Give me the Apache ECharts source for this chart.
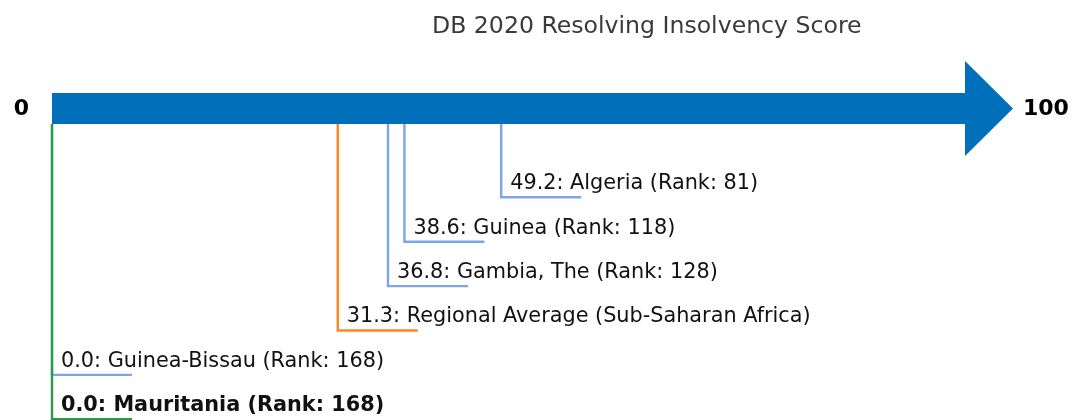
<!DOCTYPE html>
<html>
<head>
<meta charset="utf-8">
<script src="https://cdn.jsdelivr.net/npm/echarts@6/dist/echarts.min.js"></script>
<style>
html, body { margin: 0; padding: 0; background: #fff; }
#chart { width: 1072px; height: 420px; }
</style>
</head>
<body>
<div id="chart"></div>
<script>
// economies shown under the arrow, top to bottom
const names = ['Algeria', 'Guinea', 'Gambia, The', 'Regional Average (Sub-Saharan Africa)', 'Guinea-Bissau', 'Mauritania']
const scores = [49.2, 38.6, 36.8, 31.3, 0.0, 0.0]
const ranks = [81, 118, 128, null, 168, 168]
const kinds = ['peer', 'peer', 'peer', 'region', 'peer', 'focus']
// row of each label below the arrow (0 = arrow itself)
const levels = [2, 3, 4, 5, 6, 7]
const scaleEnds = [0, 100]

const kindColor = {
  peer: '#7ba7ea',
  region: '#ff8424',
  focus: '#2a9a46',
}

let myChart = echarts.init(document.getElementById('chart'))

function labelText(i) {
  let s = scores[i].toFixed(1) + ': ' + names[i]
  if (ranks[i] != null) s += ' (Rank: ' + ranks[i] + ')'
  return s
}

let option = {
  animation: false,
  title: {
    text: 'DB 2020 Resolving Insolvency Score',
    left: 427,
    top: 10,
    textStyle: {
      fontFamily: 'DejaVu Sans',
      fontSize: 23.6,
      fontWeight: 'normal',
      color: '#3a3a3a',
    },
  },
  grid: {
    left: 52,
    right: 107,
    top: 108.5,
    bottom: 0.7,
  },
  xAxis: {
    type: 'value',
    min: scaleEnds[0],
    max: scaleEnds[1],
    show: false,
  },
  yAxis: {
    type: 'value',
    min: 0,
    max: 7,
    inverse: true,
    show: false,
  },
  series: [
    {
      // the big arrow, from 0 to 100
      type: 'custom',
      silent: true,
      z: 2,
      data: [[scaleEnds[0], scaleEnds[1]]],
      renderItem(params, api) {
        let p0 = api.coord([api.value(0), 0])
        let p1 = api.coord([api.value(1), 0])
        let h = 15.5
        let head = 47.5
        let tip = p1[0] + 48
        return {
          type: 'group',
          children: [
            {
              type: 'polygon',
              shape: {
                points: [
                  [p0[0], p0[1] - h],
                  [p1[0], p1[1] - h],
                  [p1[0], p1[1] - head],
                  [tip, p1[1]],
                  [p1[0], p1[1] + head],
                  [p1[0], p1[1] + h],
                  [p0[0], p0[1] + h],
                ],
              },
              style: { fill: '#0070ba' },
            },
            {
              type: 'text',
              x: p0[0] - 23,
              y: p0[1] + 1,
              style: {
                text: String(scaleEnds[0]),
                align: 'right',
                verticalAlign: 'middle',
                font: 'bold 22px "DejaVu Sans"',
                fill: '#000',
              },
            },
            {
              type: 'text',
              x: tip + 10,
              y: p1[1] + 1,
              style: {
                text: String(scaleEnds[1]),
                align: 'left',
                verticalAlign: 'middle',
                font: 'bold 22px "DejaVu Sans"',
                fill: '#000',
              },
            },
          ],
        }
      },
    },
    {
      // leader lines + labels
      type: 'custom',
      silent: true,
      z: 1,
      data: scores.map((v, i) => [v, levels[i], i]),
      renderItem(params, api) {
        let i = api.value(2)
        let base = api.coord([api.value(0), 0])
        let p = api.coord([api.value(0), api.value(1)])
        let color = kindColor[kinds[i]]
        return {
          type: 'group',
          children: [
            {
              type: 'polyline',
              shape: {
                points: [
                  [p[0], base[1] + 15.5],
                  [p[0], p[1]],
                  [p[0] + 80, p[1]],
                ],
              },
              style: { stroke: color, lineWidth: 2.4, fill: null },
            },
            {
              type: 'text',
              x: p[0] + 9,
              y: p[1] - 3,
              style: {
                text: labelText(i),
                align: 'left',
                verticalAlign: 'bottom',
                font: (kinds[i] == 'focus' ? 'bold ' : '') + '20.8px "DejaVu Sans"',
                fill: '#111',
              },
            },
          ],
        }
      },
    },
  ],
}
myChart.setOption(option)
</script>
</body>
</html>
